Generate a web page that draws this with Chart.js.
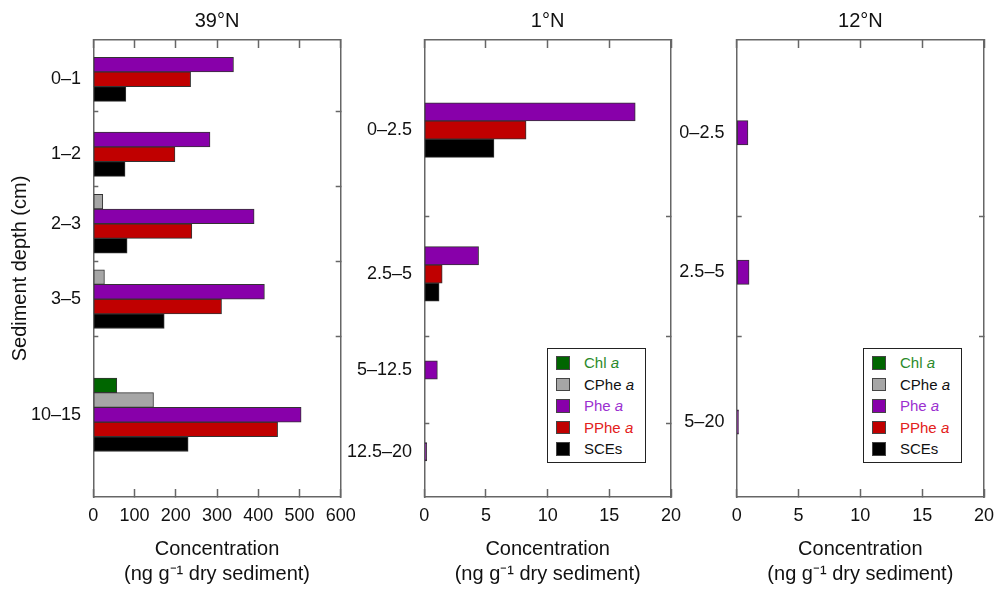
<!DOCTYPE html>
<html>
<head>
<meta charset="utf-8">
<script src="https://cdn.jsdelivr.net/npm/chart.js@4.4.1/dist/chart.umd.min.js"></script>
<style>
  body { margin: 0; background: #fff; }
  #wrap { position: relative; width: 995px; height: 589px; overflow: hidden; }
  #wrap canvas { position: absolute; top: 0; }
  .legend {
    position: absolute; box-sizing: border-box; width: 99px; height: 115px;
    border: 1.5px solid #222; background: #fff; padding-top: 3px;
    font: 15px "Liberation Sans", Arial, sans-serif;
  }
  .legend .row { position: relative; height: 21.6px; line-height: 21.6px; }
  .legend .sw {
    position: absolute; left: 8px; top: 4px; width: 13.5px; height: 13.5px;
    box-sizing: border-box; border: 1px solid #444;
  }
  .legend .txt { position: absolute; left: 36px; top: 0; white-space: nowrap; }
</style>
</head>
<body>
<div id="wrap">
  <canvas id="c39" width="374" height="589" style="left:0px"></canvas>
  <canvas id="c1" width="362" height="589" style="left:338px"></canvas>
  <canvas id="c12" width="346" height="589" style="left:668px"></canvas>
  <div class="legend" id="leg1" style="left:547px; top:348px"></div>
  <div class="legend" id="leg12" style="left:863px; top:348px"></div>
</div>
<script>
// Pigment series (same order in every panel)
const seriesNames = ["Chl a", "CPhe a", "Phe a", "PPhe a", "SCEs"]
const seriesColors = ["#006600", "#a6a6a6", "#8800aa", "#c00000", "#000000"]
const legendTextColors = ["#2a8a2a", "#111111", "#9b30d0", "#e32020", "#111111"]

// 39°N
const depths39 = ["0–1", "1–2", "2–3", "3–5", "10–15"]
const rows39 = [0.86, 2.5, 4.02, 5.67, 8.2] // slot on the depth axis (0 top, 10 bottom)
const breaks39 = [1.57, 3.21, 4.84, 6.49]
const chl39 = [null, null, null, null, 57]
const cphe39 = [null, null, 23, 27, 146]
const phe39 = [340, 283, 390, 415, 504]
const pphe39 = [236, 198, 239, 311, 447]
const sce39 = [79, 77, 82, 172, 230]

// 1°N
const depths1 = ["0–2.5", "2.5–5", "5–12.5", "12.5–20"]
const rows1 = [1.97, 5.12, 7.22, 9.01]
const breaks1 = [3.87, 6.49, 8.39]
const chl1 = [null, null, null, null]
const cphe1 = [null, null, null, null]
const phe1 = [17.1, 4.4, 1.06, 0.2]
const pphe1 = [8.25, 1.45, null, null]
const sce1 = [5.65, 1.2, null, null]

// 12°N
const depths12 = ["0–2.5", "2.5–5", "5–20"]
const rows12 = [2.03, 5.08, 8.36]
const breaks12 = [3.87, 6.49]
const chl12 = [null, null, null]
const cphe12 = [null, null, null]
const phe12 = [0.91, 1.0, 0.15]
const pphe12 = [null, null, null]
const sce12 = [null, null, null]

const frame = "#666"
const ink = "#111"
Chart.defaults.font.family = '"Liberation Sans", Arial, sans-serif'
Chart.defaults.color = ink

function makePanel(id, opts) {
  const datasets = opts.series.map((vals, k) => ({
    label: seriesNames[k],
    data: opts.rows.map((r, i) => ({ x: vals[i], y: r })),
    backgroundColor: seriesColors[k],
    borderColor: "#333",
    borderWidth: 1,
    borderSkipped: false,
    barThickness: opts.barThickness,
    skipNull: true,
    xAxisID: "x",
    yAxisID: "y",
  }))

  const ctx = document.getElementById(id).getContext("2d")
  return new Chart(ctx, {
    type: "bar",
    data: { datasets },
    options: {
      indexAxis: "y",
      responsive: false,
      animation: false,
      layout: { autoPadding: false, padding: { left: 0, right: opts.padRight, top: 0, bottom: 0 } },
      plugins: {
        legend: { display: false },
        tooltip: { enabled: false },
        title: {
          display: true,
          text: opts.title,
          fullSize: false,
          color: ink,
          font: { size: 20, weight: "normal" },
          padding: { top: 9, bottom: 7 },
        },
      },
      scales: {
        x: {
          type: "linear",
          position: "bottom",
          min: 0,
          max: opts.xMax,
          ticks: { stepSize: opts.step, padding: 16.2, font: { size: 18 }, color: ink, maxRotation: 0 },
          grid: { drawOnChartArea: false, tickLength: -8, tickColor: frame, tickWidth: 1.5 },
          border: { color: frame, width: 1.5 },
          title: {
            display: true,
            text: ["Concentration", "(ng g⁻¹ dry sediment)"],
            color: ink,
            font: { size: 20, lineHeight: 1.25 },
            padding: { top: 0, bottom: 2 },
          },
          afterFit: (s) => { s.height = 92 },
        },
        xT: {
          axis: "x",
          type: "linear",
          position: "top",
          min: 0,
          max: opts.xMax,
          ticks: { display: false, stepSize: opts.step },
          grid: { drawOnChartArea: false, tickLength: -8, tickColor: frame, tickWidth: 1.5 },
          border: { color: frame, width: 1.5 },
          afterFit: (s) => { s.height = 0 },
        },
        y: {
          type: "linear",
          position: "left",
          reverse: true,
          min: 0,
          max: 10,
          offset: false,
          afterBuildTicks: (s) => {
            s.ticks = opts.rows.map((v, i) => ({ value: v, name: opts.depths[i] }))
              .concat(opts.breaks.map((v) => ({ value: v, name: "" })))
          },
          ticks: {
            autoSkip: false,
            padding: 17.3,
            font: { size: 18 },
            color: ink,
            callback: (v, i, t) => t[i].name,
          },
          grid: {
            offset: false,
            drawOnChartArea: false,
            tickLength: -5,
            tickWidth: 1.5,
            tickColor: (c) => (c.tick && c.tick.name ? "rgba(0,0,0,0)" : frame),
          },
          border: { color: frame, width: 1.5 },
          title: {
            display: !!opts.yTitle,
            text: opts.yTitle || "",
            color: ink,
            font: { size: 20 },
            padding: { top: 8, bottom: 0 },
          },
          afterFit: (s) => { s.width = opts.yWidth },
        },
        yR: {
          axis: "y",
          type: "linear",
          position: "right",
          reverse: true,
          min: 0,
          max: 10,
          offset: false,
          afterBuildTicks: (s) => { s.ticks = opts.breaks.map((v) => ({ value: v })) },
          ticks: { display: false },
          grid: { offset: false, drawOnChartArea: false, tickLength: -5, tickColor: frame, tickWidth: 1.5 },
          border: { color: frame, width: 1.5 },
          afterFit: (s) => { s.width = 0 },
        },
      },
    },
  })
}

// Build an html legend from the series arrays
function makeLegend(id) {
  const el = document.getElementById(id)
  el.innerHTML = seriesNames
    .map((name, k) => {
      const label = name.replace(/ a$/, " <i>a</i>")
      return `<div class="row"><span class="sw" style="background:${seriesColors[k]}"></span>` +
        `<span class="txt" style="color:${legendTextColors[k]}">${label}</span></div>`
    })
    .join("")
}

// padRight leaves room for the last x tick label so the plot area is not shrunk
makePanel("c39", {
  title: "39°N",
  depths: depths39, rows: rows39, breaks: breaks39,
  series: [chl39, cphe39, phe39, pphe39, sce39],
  xMax: 600, step: 100, barThickness: 14.7,
  yWidth: 93.3, padRight: 33.3, yTitle: "Sediment depth (cm)",
})

makePanel("c1", {
  title: "1°N",
  depths: depths1, rows: rows1, breaks: breaks1,
  series: [chl1, cphe1, phe1, pphe1, sce1],
  xMax: 20, step: 5, barThickness: 18.2,
  yWidth: 86.3, padRight: 29,
})

makePanel("c12", {
  title: "12°N",
  depths: depths12, rows: rows12, breaks: breaks12,
  series: [chl12, cphe12, phe12, pphe12, sce12],
  xMax: 20, step: 5, barThickness: 24.3,
  yWidth: 68.7, padRight: 30,
})

makeLegend("leg1")
makeLegend("leg12")
</script>
</body>
</html>
